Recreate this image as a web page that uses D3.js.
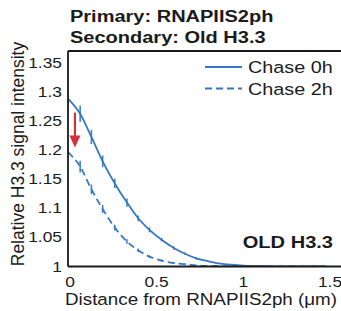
<!DOCTYPE html>
<html>
<head>
<meta charset="utf-8">
<script src="https://cdn.jsdelivr.net/npm/d3@7"></script>
<style>
  html, body { margin: 0; padding: 0; background: #fff; }
  svg { display: block; font-family: "Liberation Sans", Arial, sans-serif; }
</style>
</head>
<body>
<svg id="chart" width="341" height="311"></svg>
<script>
// Chart values
var titleLines  = ["Primary: RNAPIIS2ph", "Secondary: Old H3.3"];
var seriesNames = ["Chase 0h", "Chase 2h"];
var distance    = [0, 0.07, 0.135, 0.2, 0.27, 0.34, 0.405, 0.47, 0.54, 0.61, 0.675, 0.74,
                   0.81, 0.88, 0.945, 1.01, 1.08, 1.15, 1.215, 1.28, 1.35, 1.42, 1.485];
var chase0h     = [1.289, 1.263, 1.223, 1.181, 1.143, 1.110, 1.083, 1.063, 1.046, 1.032, 1.022, 1.014,
                   1.009, 1.005, 1.003, 1.0015, 1.0008, 1.0004, 1.0002, 1.0001, 1.0, 1.0, 1.0];
var chase0hErr  = [0.009, 0.014, 0.012, 0.010, 0.008, 0.007, 0.005, 0.004, 0.003, 0.003, 0.002, 0.002,
                   0.001, 0.001, 0, 0, 0, 0, 0, 0, 0, 0, 0];
var chase2h     = [1.197, 1.172, 1.133, 1.099, 1.067, 1.043, 1.028, 1.017, 1.010, 1.006, 1.004, 1.002,
                   1.001, 1.0005, 1.0002, 1.0001, 1.0, 1.0, 1.0, 1.0, 1.0, 1.0, 1.0];
var chase2hErr  = [0.007, 0.010, 0.008, 0.007, 0.005, 0.004, 0.003, 0.002, 0.002, 0.001, 0.001, 0,
                   0, 0, 0, 0, 0, 0, 0, 0, 0, 0, 0];
var xTicks      = [0, 0.5, 1, 1.5];
var yTicks      = [1, 1.05, 1.1, 1.15, 1.2, 1.25, 1.3, 1.35];
var arrowFrom   = { x: 0.04, y: 1.265 };
var arrowTo     = { x: 0.04, y: 1.205 };

var BLUE = "#3579c6";
var RED  = "#d2323c";
var INK  = "#1a1a1a";

var svg = d3.select("#chart");

// The figure is a bit wider than tall, text gets a horizontal stretch
function stretched(x, y, sx) {
  return "translate(" + x + "," + y + ") scale(" + sx + ",1)";
}

var x = d3.scaleLinear().domain([0, 1.5]).range([68, 328]);
var y = d3.scaleLinear().domain([1, 1.371]).range([266.5, 51]);

var plotLeft = x(0), plotRight = 341, plotTop = y.range()[1], plotBottom = y.range()[0];

svg.append("defs").append("clipPath").attr("id", "plot-clip")
  .append("rect")
  .attr("x", plotLeft).attr("y", plotTop - 20)
  .attr("width", plotRight - plotLeft).attr("height", plotBottom - plotTop + 20);

// Series
var series = [
  { name: seriesNames[0], vals: chase0h, errs: chase0hErr, dash: null },
  { name: seriesNames[1], vals: chase2h, errs: chase2hErr, dash: "7,4" }
];

var line = d3.line()
  .x(function (d) { return x(d.x); })
  .y(function (d) { return y(d.y); })
  .curve(d3.curveMonotoneX);

var plot = svg.append("g").attr("clip-path", "url(#plot-clip)");

series.forEach(function (s) {
  var pts = distance.map(function (dx, i) {
    return { x: dx, y: s.vals[i], e: s.errs[i] };
  });

  plot.append("path")
    .datum(pts)
    .attr("d", line)
    .attr("fill", "none")
    .attr("stroke", BLUE)
    .attr("stroke-width", 1.8)
    .attr("stroke-dasharray", s.dash);

  // Error bars (no caps)
  plot.selectAll(null)
    .data(pts.filter(function (d) { return d.e > 0; }))
    .enter().append("line")
    .attr("x1", function (d) { return x(d.x); })
    .attr("x2", function (d) { return x(d.x); })
    .attr("y1", function (d) { return y(d.y + d.e); })
    .attr("y2", function (d) { return y(d.y - d.e); })
    .attr("stroke", BLUE)
    .attr("stroke-width", 1.5);
});

// Axes box: left, bottom and top (right edge runs off the picture)
var frame = svg.append("g").attr("stroke", INK).attr("stroke-width", 1.8);
frame.append("line").attr("x1", plotLeft).attr("x2", plotLeft).attr("y1", plotTop).attr("y2", plotBottom);
frame.append("line").attr("x1", plotLeft).attr("x2", plotRight).attr("y1", plotBottom).attr("y2", plotBottom);
frame.append("line").attr("x1", plotLeft).attr("x2", plotRight).attr("y1", plotTop).attr("y2", plotTop);

// Tick labels (no tick marks in the reference)
svg.append("g").selectAll("text")
  .data(yTicks)
  .enter().append("text")
  .attr("transform", function (d) { return stretched(62, y(d) + 5, 1.2); })
  .attr("text-anchor", "end")
  .attr("font-size", 14.5)
  .attr("fill", INK)
  .text(function (d) { return d3.format("")(d); });

svg.append("g").selectAll("text")
  .data(xTicks)
  .enter().append("text")
  .attr("transform", function (d) { return stretched(x(d) + 2, 286.5, 1.2); })
  .attr("text-anchor", "middle")
  .attr("font-size", 14.5)
  .attr("fill", INK)
  .text(function (d) { return d3.format("")(d); });

// Axis titles
svg.append("text")
  .attr("transform", stretched(201, 305, 1.14) )
  .attr("text-anchor", "middle")
  .attr("font-size", 16.5)
  .attr("fill", INK)
  .text("Distance from RNAPIIS2ph (\u03bcm)");

svg.append("text")
  .attr("transform", "translate(24,154) scale(1.1,1) rotate(-90)")
  .attr("text-anchor", "middle")
  .attr("font-size", 17.5)
  .attr("fill", INK)
  .text("Relative H3.3 signal intensity");

// Title
svg.append("g").selectAll("text")
  .data(titleLines)
  .enter().append("text")
  .attr("transform", function (d, i) { return stretched(70, 22 + i * 20.5, 1.25); })
  .attr("font-size", 16)
  .attr("font-weight", "bold")
  .attr("fill", INK)
  .text(function (d) { return d; });

// Legend
var legend = svg.append("g");
series.forEach(function (s, i) {
  var ly = 67 + i * 21.5;
  legend.append("line")
    .attr("x1", 205).attr("x2", 242)
    .attr("y1", ly).attr("y2", ly)
    .attr("stroke", BLUE)
    .attr("stroke-width", 1.8)
    .attr("stroke-dasharray", s.dash);
  legend.append("text")
    .attr("transform", stretched(248, ly + 6, 1.2))
    .attr("font-size", 16.5)
    .attr("fill", INK)
    .text(s.name);
});

// Panel label
svg.append("text")
  .attr("transform", stretched(333, 248, 1.18))
  .attr("text-anchor", "end")
  .attr("font-size", 17)
  .attr("font-weight", "bold")
  .attr("fill", INK)
  .text("OLD H3.3");

// Red arrow showing the drop between chase times
var ax = x(arrowFrom.x), ay1 = y(arrowFrom.y), ay2 = y(arrowTo.y);
svg.append("line")
  .attr("x1", ax).attr("x2", ax)
  .attr("y1", ay1).attr("y2", ay2 - 11)
  .attr("stroke", RED)
  .attr("stroke-width", 2.2);
svg.append("path")
  .attr("d", "M" + (ax - 5.5) + "," + (ay2 - 12) + " L" + (ax + 5.5) + "," + (ay2 - 12) + " L" + ax + "," + ay2 + " Z")
  .attr("fill", RED);
</script>
</body>
</html>
